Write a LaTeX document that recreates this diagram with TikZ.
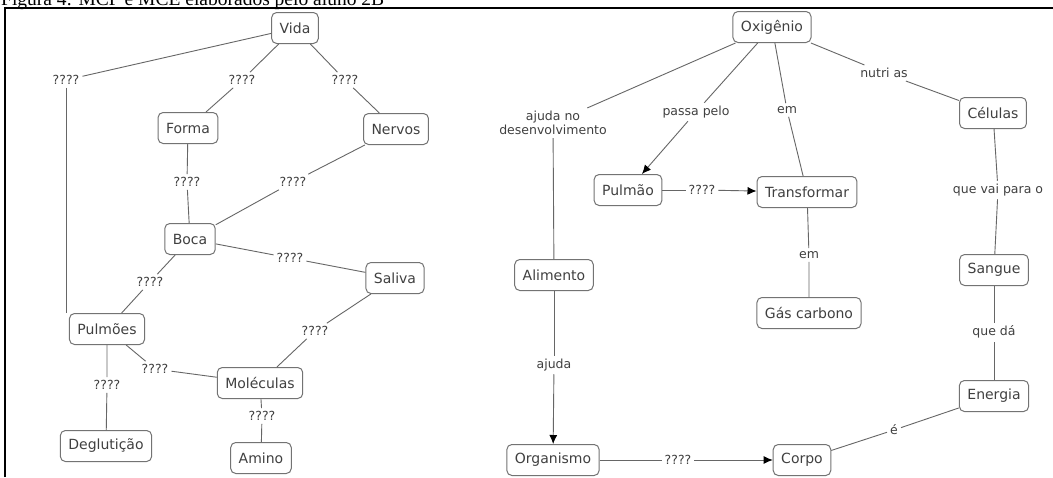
\documentclass[tikz,border=0pt]{standalone}
\usepackage{fontspec}
\setmainfont{Liberation Serif}
\newfontfamily\mapfont{DejaVu Sans}
\usetikzlibrary{arrows.meta,positioning,calc}

\begin{document}
\begin{tikzpicture}[x=1pt,y=-1pt,
  concept/.style={draw=black!55, line width=1pt, rounded corners=5pt, fill=white,
    text=black!75, font=\mapfont\fontsize{14}{16}\selectfont, inner xsep=8pt, minimum height=31pt},
  linklabel/.style={text=black!75, font=\mapfont\fontsize{12.5}{14}\selectfont, inner sep=3pt, align=center},
  link/.style={draw=black!60, line width=0.9pt},
  arrowlink/.style={link, -{Latex[length=9pt,width=8pt,black]}}]
\fill[white] (0,0) rectangle (1053,477);
\useasboundingbox (0,0) rectangle (1053,477);
\node[anchor=base west, inner sep=0, font=\fontsize{19.5}{22}\selectfont] (caption) at (1,5.5) {Figura 4: MCP e MCE elaborados pelo aluno 2B};
\draw[line width=2pt] (5,477) -- (5,7.5) -- (1053,7.5);

\node[concept] (vida) at (295,28) {Vida};
\node[concept] (forma) at (188,128) {Forma};
\node[concept] (nervos) at (396,129) {Nervos};
\node[concept] (boca) at (190,239) {Boca};
\node[concept] (saliva) at (395,278) {Saliva};
\node[concept] (pulmoes) at (107,329) {Pulmões};
\node[concept] (moleculas) at (260,383) {Moléculas};
\node[concept] (degluticao) at (106,446) {Deglutição};
\node[concept] (amino) at (261,458) {Amino};

\node[linklabel] (l1) at (66,80) {????};
\node[linklabel] (l2) at (242,80) {????};
\node[linklabel] (l3) at (345,80) {????};
\node[linklabel] (l4) at (187,182) {????};
\node[linklabel] (l5) at (293,182) {????};
\node[linklabel] (l6) at (290,258) {????};
\node[linklabel] (l7) at (150,282) {????};
\node[linklabel] (l8) at (107,385) {????};
\node[linklabel] (l9) at (155,369) {????};
\node[linklabel] (l10) at (315,331) {????};
\node[linklabel] (l11) at (262,416) {????};

\draw[link] (vida) -- (l1);
\draw[link] (l1.south) -- (l1.south |- pulmoes.north);
\draw[link] (vida) -- (l2) -- (forma);
\draw[link] (vida) -- (l3) -- (nervos);
\draw[link] (forma) -- (l4) -- (boca);
\draw[link] (nervos) -- (l5) -- (boca);
\draw[link] (boca) -- (l6) -- (saliva);
\draw[link] (boca) -- (l7) -- (pulmoes);
\draw[link] (pulmoes) -- (l8) -- (degluticao);
\draw[link] (pulmoes) -- (l9) -- (moleculas);
\draw[link] (saliva) -- (l10) -- (moleculas);
\draw[link] (moleculas) -- (l11) -- (amino);

\node[concept] (oxigenio) at (772,27) {Oxigênio};
\node[concept] (celulas) at (993,113) {Células};
\node[concept] (pulmao) at (628,190) {Pulmão};
\node[concept] (transformar) at (807,192) {Transformar};
\node[concept] (alimento) at (554,275) {Alimento};
\node[concept] (gas) at (809,313) {Gás carbono};
\node[concept] (sangue) at (994,270) {Sangue};
\node[concept] (energia) at (994,396) {Energia};
\node[concept] (organismo) at (553,460) {Organismo};
\node[concept] (corpo) at (802,460) {Corpo};

\node[linklabel] (r1) at (553,123) {ajuda no\\desenvolvimento};
\node[linklabel] (r2) at (696,112) {passa pelo};
\node[linklabel] (r3) at (787,110) {em};
\node[linklabel] (r4) at (884,73) {nutri as};
\node[linklabel] (r5) at (702,190) {????};
\node[linklabel] (r6) at (998,190) {que vai para o};
\node[linklabel] (r7) at (809,255) {em};
\node[linklabel] (r8) at (994,332) {que dá};
\node[linklabel] (r9) at (554,365) {ajuda};
\node[linklabel] (r10) at (678,460) {????};
\node[linklabel] (r11) at (894,430) {é};

\draw[link] (oxigenio) -- (r1) -- (alimento);
\draw[link] (oxigenio) -- (r2);
\draw[arrowlink] (r2) -- (pulmao);
\draw[link] (oxigenio) -- (r3) -- (transformar);
\draw[link] (oxigenio) -- (r4) -- (celulas);
\draw[link] (pulmao) -- (r5);
\draw[arrowlink] (r5) -- (transformar);
\draw[link] (celulas) -- (r6) -- (sangue);
\draw[link] (transformar) -- (r7) -- (gas);
\draw[link] (energia) -- (r8) -- (sangue);
\draw[link] (alimento) -- (r9);
\draw[arrowlink] (r9) -- (organismo);
\draw[link] (organismo) -- (r10);
\draw[arrowlink] (r10) -- (corpo);
\draw[link] (corpo) -- (r11) -- (energia);
\end{tikzpicture}
\end{document}
